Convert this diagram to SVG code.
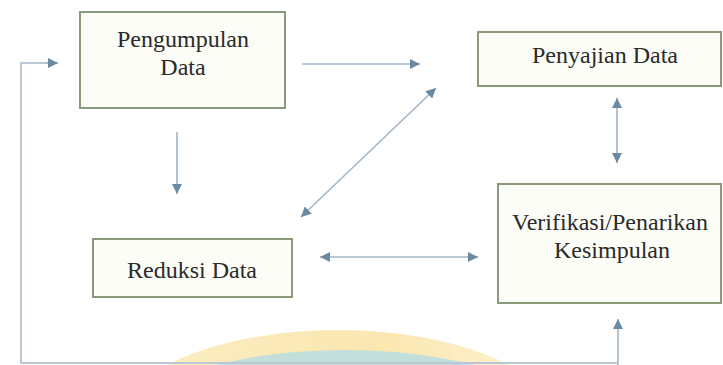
<svg xmlns="http://www.w3.org/2000/svg" width="723" height="365" viewBox="0 0 723 365">
<defs>
<style>
.box{fill:#fcfdf6;stroke:#8c9a7c;stroke-width:2}
.lbl{font-size:24px;fill:#2a2a2a;text-anchor:middle}
.ln{stroke:#a3b5c6;stroke-width:1.6;fill:none}
.fb{stroke:#bcc7d6;stroke-width:2;fill:none}
</style>
<marker id="ah" viewBox="0 0 10 10" refX="10" refY="5" markerWidth="11" markerHeight="10" markerUnits="userSpaceOnUse" orient="auto-start-reverse">
<path d="M0,0 L10,5 L0,10 z" fill="#6a8aa3"/>
</marker>
<linearGradient id="yl" x1="0" y1="0" x2="1" y2="0">
<stop offset="0" stop-color="#fbeec4"/>
<stop offset="0.6" stop-color="#fbe7b0"/>
<stop offset="1" stop-color="#fdf3d6"/>
</linearGradient>
</defs>
<g id="watermark">
<ellipse cx="338" cy="430" rx="225" ry="100" fill="url(#yl)"/>
<ellipse cx="345" cy="445" rx="240" ry="95" fill="#c3dfdc"/>
</g>
<g font-family="Liberation Serif, Times New Roman, serif">
<g id="n1">
<rect class="box" x="80" y="12" width="205" height="96"/>
<text class="lbl" x="183" y="47">Pengumpulan</text>
<text class="lbl" x="183" y="75">Data</text>
</g>
<g id="n2">
<rect class="box" x="478" y="32" width="243" height="54"/>
<text class="lbl" x="605" y="63">Penyajian Data</text>
</g>
<g id="n3">
<rect class="box" x="93" y="239" width="199" height="58"/>
<text class="lbl" x="192" y="278">Reduksi Data</text>
</g>
<g id="n4">
<rect class="box" x="498" y="184" width="223" height="119"/>
<text class="lbl" x="610" y="230">Verifikasi/Penarikan</text>
<text class="lbl" x="612" y="258">Kesimpulan</text>
</g>
</g>
<g id="connectors">
<line class="ln" x1="302" y1="64" x2="420" y2="64" marker-end="url(#ah)"/>
<line class="ln" x1="301" y1="217" x2="436" y2="88" marker-start="url(#ah)" marker-end="url(#ah)"/>
<line class="ln" x1="177" y1="132" x2="177" y2="194" marker-end="url(#ah)"/>
<line class="ln" x1="617" y1="98" x2="617" y2="163" marker-start="url(#ah)" marker-end="url(#ah)"/>
<line class="ln" x1="320" y1="257" x2="478" y2="257" marker-start="url(#ah)" marker-end="url(#ah)"/>
<line class="ln" x1="618" y1="365" x2="618" y2="319" marker-end="url(#ah)"/>
<polyline class="fb" points="618,363 21,363 21,63 48,63"/>
<line class="ln" x1="46" y1="63" x2="58" y2="63" marker-end="url(#ah)"/>
</g>
</svg>
